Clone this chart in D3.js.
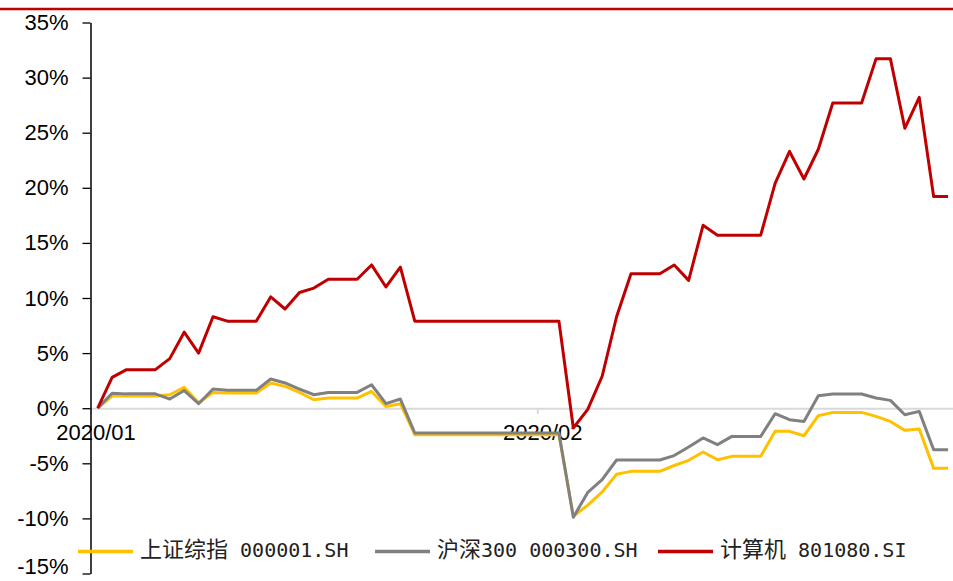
<!DOCTYPE html>
<html><head><meta charset="utf-8">
<script src="https://cdn.jsdelivr.net/npm/d3@7/dist/d3.min.js"></script>
<style>
html,body{margin:0;padding:0;background:#fff;}
svg{display:block;}
</style></head>
<body>
<svg id="chart" width="953" height="581"></svg>
<script>
// ---- data ----
const dates = [
 "2020-01-01","2020-01-02","2020-01-03","2020-01-04","2020-01-05","2020-01-06","2020-01-07","2020-01-08","2020-01-09","2020-01-10",
 "2020-01-11","2020-01-12","2020-01-13","2020-01-14","2020-01-15","2020-01-16","2020-01-17","2020-01-18","2020-01-19","2020-01-20",
 "2020-01-21","2020-01-22","2020-01-23","2020-01-24","2020-01-25","2020-01-26","2020-01-27","2020-01-28","2020-01-29","2020-01-30",
 "2020-01-31","2020-02-01","2020-02-02","2020-02-03","2020-02-04","2020-02-05","2020-02-06","2020-02-07","2020-02-08","2020-02-09",
 "2020-02-10","2020-02-11","2020-02-12","2020-02-13","2020-02-14","2020-02-15","2020-02-16","2020-02-17","2020-02-18","2020-02-19",
 "2020-02-20","2020-02-21","2020-02-22","2020-02-23","2020-02-24","2020-02-25","2020-02-26","2020-02-27","2020-02-28","2020-02-29"
];
const shComposite = [ // 上证综指 000001.SH
 0,1.1,1.1,1.1,1.1,1.22,1.9,0.5,1.43,1.38,
 1.38,1.38,2.29,1.98,1.43,0.77,0.92,0.92,0.92,1.52,
 0.16,0.41,-2.4,-2.4,-2.4,-2.4,-2.4,-2.4,-2.4,-2.4,
 -2.4,-2.4,-2.4,-9.8,-8.8,-7.6,-6.0,-5.73,-5.73,-5.73,
 -5.2,-4.73,-3.97,-4.67,-4.37,-4.37,-4.37,-2.1,-2.1,-2.5,
 -0.68,-0.38,-0.38,-0.38,-0.74,-1.2,-2.01,-1.89,-5.46,-5.46
];
const hs300 = [ // 沪深300 000300.SH
 0,1.35,1.3,1.3,1.3,0.83,1.6,0.41,1.74,1.62,
 1.62,1.62,2.65,2.29,1.74,1.22,1.43,1.43,1.43,2.13,
 0.41,0.83,-2.25,-2.25,-2.25,-2.25,-2.25,-2.25,-2.25,-2.25,
 -2.25,-2.25,-2.25,-9.9,-7.64,-6.49,-4.7,-4.7,-4.7,-4.7,
 -4.3,-3.52,-2.7,-3.31,-2.56,-2.56,-2.56,-0.5,-1.04,-1.2,
 1.13,1.29,1.29,1.29,0.92,0.71,-0.59,-0.29,-3.77,-3.77
];
const computer = [ // 计算机 801080.SI
 0,2.8,3.5,3.5,3.5,4.5,6.9,5.0,8.3,7.9,
 7.9,7.9,10.1,9.0,10.5,10.9,11.7,11.7,11.7,13.0,
 11.0,12.8,7.9,7.9,7.9,7.9,7.9,7.9,7.9,7.9,
 7.9,7.9,7.9,-1.8,-0.1,2.9,8.3,12.2,12.2,12.2,
 13.0,11.6,16.6,15.7,15.7,15.7,15.7,20.4,23.3,20.8,
 23.5,27.7,27.7,27.7,31.7,31.7,25.4,28.2,19.2,19.2
];
const seriesCjk = ["上证综指","沪深","计算机"];
const seriesLatin = [" 000001.SH","300 000300.SH"," 801080.SI"];
const seriesColors = ["#FFC000","#808080","#C00000"];
const yTicks = [-15,-10,-5,0,5,10,15,20,25,30,35];
const xTickDates = ["2020-01-01","2020-02-01"];
const xTickLabels = ["2020/01","2020/02"];

// ---- chart ----
const svg = d3.select("#chart");
const W = 953, H = 581;
const parse = d3.timeParse("%Y-%m-%d");
const axisX = 90.5;
const x = d3.scaleTime()
  .domain([parse("2020-01-01"), parse("2020-03-01")])
  .range([axisX, axisX + 14.413*60]);
const y = d3.scaleLinear().domain([-15,35]).range([573.5,22.5]);
const px = d => x(d3.timeHour.offset(parse(d), 12));

// top red rule
svg.append("line").attr("x1",0).attr("x2",W).attr("y1",9).attr("y2",9)
  .attr("stroke","#C00000").attr("stroke-width",2.5);

// x axis (zero line)
const xAxis = d3.axisBottom(x)
  .tickValues(xTickDates.map(parse))
  .tickFormat((d,i)=>xTickLabels[i])
  .tickSize(6).tickSizeOuter(0);
const gx = svg.append("g").attr("transform",`translate(0,${y(0)})`).call(xAxis);
gx.select(".domain").attr("stroke","#D9D9D9").attr("stroke-width",2);
gx.selectAll(".tick line").attr("stroke","#D9D9D9").attr("stroke-width",2);
gx.selectAll(".tick text").attr("font-family","'Liberation Sans', Arial, sans-serif")
  .attr("font-size",22).attr("fill","#000").attr("dx",5).attr("y",16).attr("dy","0.71em");

// lines
const line = d3.line().x((v,i)=>px(dates[i])).y(v=>y(v));
[shComposite, hs300, computer].forEach((s,k)=>{
  svg.append("path").datum(s).attr("d",line)
    .attr("fill","none").attr("stroke",seriesColors[k]).attr("stroke-width",3)
    .attr("stroke-linejoin","round").attr("stroke-linecap","butt");
});

// y axis
const yAxis = d3.axisLeft(y).tickValues(yTicks).tickFormat(d=>d+"%").tickSize(8).tickSizeOuter(0).tickPadding(14);
const gy = svg.append("g").attr("transform",`translate(${axisX},0)`).call(yAxis);
gy.select(".domain").attr("stroke","#000").attr("stroke-width",1.5);
gy.selectAll(".tick line").attr("stroke","#000").attr("stroke-width",1.3);
gy.selectAll(".tick text").attr("font-family","'Liberation Sans', Arial, sans-serif")
  .attr("font-size",22).attr("fill","#000")
  .attr("dy",(d)=> d===-15 ? "0.02em" : "0.32em");

// legend
const legendX = [78, 375, 658];
const legY = 551.5;
const lg = svg.append("g");
seriesColors.forEach((c,k)=>{
  lg.append("line").attr("x1",legendX[k]).attr("x2",legendX[k]+55)
    .attr("y1",legY).attr("y2",legY).attr("stroke",c).attr("stroke-width",3.5);
  const t = lg.append("text").attr("x",legendX[k]+62).attr("y",legY).attr("dy","0.36em")
    .attr("fill","#222");
  t.append("tspan").text(seriesCjk[k])
    .attr("font-family","'Noto Sans CJK SC', sans-serif").attr("font-size",22);
  t.append("tspan").text(seriesLatin[k])
    .attr("font-family","'DejaVu Sans Mono', monospace").attr("font-size",20);
});
</script>
</body></html>
